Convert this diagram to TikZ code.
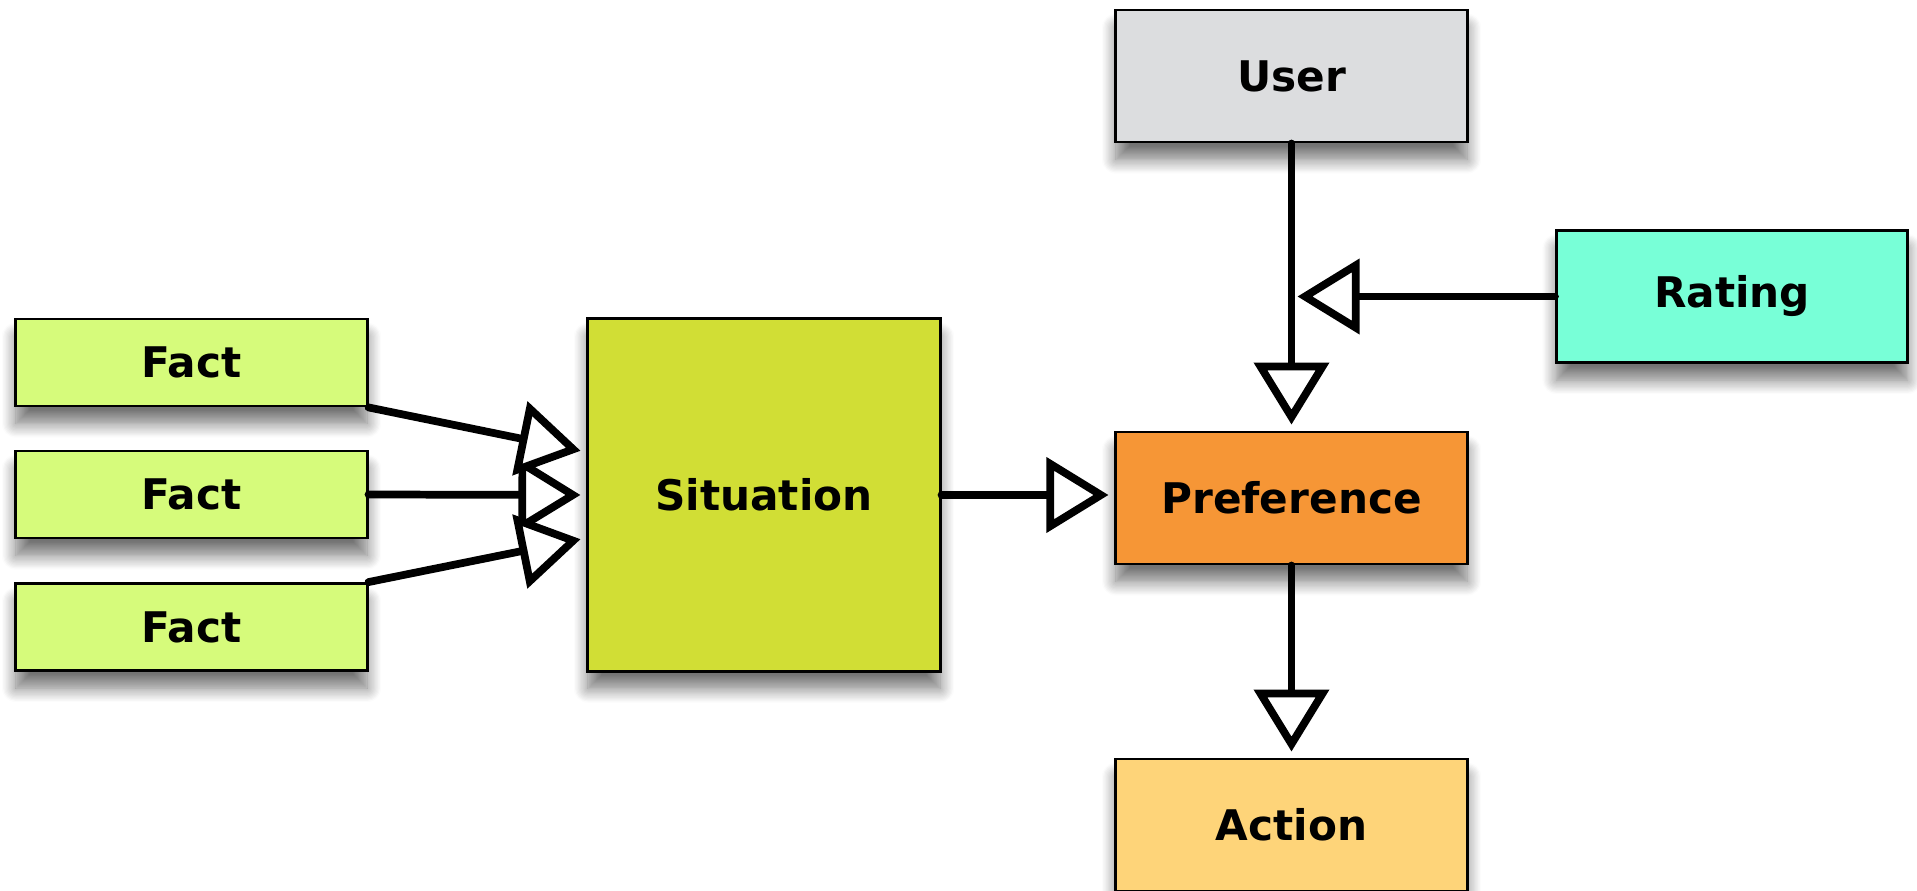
\documentclass[tikz,border=0pt]{standalone}
\usepackage{fontspec}
\setmainfont{DejaVu Sans}
\usepackage{xcolor}
\usetikzlibrary{calc,
	positioning,
	arrows.meta,
	shadows.blur}

\definecolor{factgreen}{RGB}{214,251,123}
\definecolor{situationgreen}{RGB}{209,222,53}
\definecolor{usergrey}{RGB}{220,221,223}
\definecolor{ratingaqua}{RGB}{120,255,215}
\definecolor{preforange}{RGB}{246,150,54}
\definecolor{actionyellow}{RGB}{254,212,121}

\begin{document}
\begin{tikzpicture}[x=0.01cm, y=-0.01cm,
		box/.style={draw=black, line width=0.8pt, inner sep=0pt,
			font=\fontsize{12}{14}\selectfont\bfseries,
			blur shadow={shadow xshift=0pt, shadow yshift=-5pt, shadow blur radius=4pt, shadow blur steps=12, shadow opacity=55}},
		factbox/.style={box, fill=factgreen, minimum width=3.51cm, minimum height=0.87cm},
		bigbox/.style={box, minimum width=3.51cm, minimum height=1.32cm},
		link/.style={line width=2.2pt, line cap=round, shorten >=0.06cm,
			-{Triangle[length=0.62cm, width=0.74cm, fill=white]}}]
                            \useasboundingbox (0,0) rectangle (1917,891);
                            % inputs
                            \node (fact1) [factbox] at (191.5,362.5) {Fact};
                            \node (fact2) [factbox] at (191.5,494.5) {Fact};
                            \node (fact3) [factbox] at (191.5,627) {Fact};
                            \node (situation) [box, fill=situationgreen, minimum width=3.52cm, minimum height=3.52cm] at (764,495) {Situation};
                            % right hand side
                            \node (user) [bigbox, fill=usergrey] at (1291.5,76) {User};
                            \node (rating) [bigbox, fill=ratingaqua] at (1732,296.5) {Rating};
                            \node (preference) [bigbox, fill=preforange] at (1291.5,498) {Preference};
                            \node (action) [bigbox, fill=actionyellow] at (1291.5,825) {Action};
                            % connectors
                            \draw [link] (fact2.east) -- (situation.west);
                            \draw [link] (fact1.south east) -- ($(situation.west)+(0,-43)$);
                            \draw [link] (fact3.north east) -- ($(situation.west)+(0,43)$);
                            \draw [link] (situation.east) -- (situation.east -| preference.west);
                            \draw [link] (user.south) -- (preference.north);
                            \draw [link] (rating.west) -- (user.south |- rating.west);
                            \draw [link] (preference.south) -- (action.north);
                        \end{tikzpicture}
\end{document}
